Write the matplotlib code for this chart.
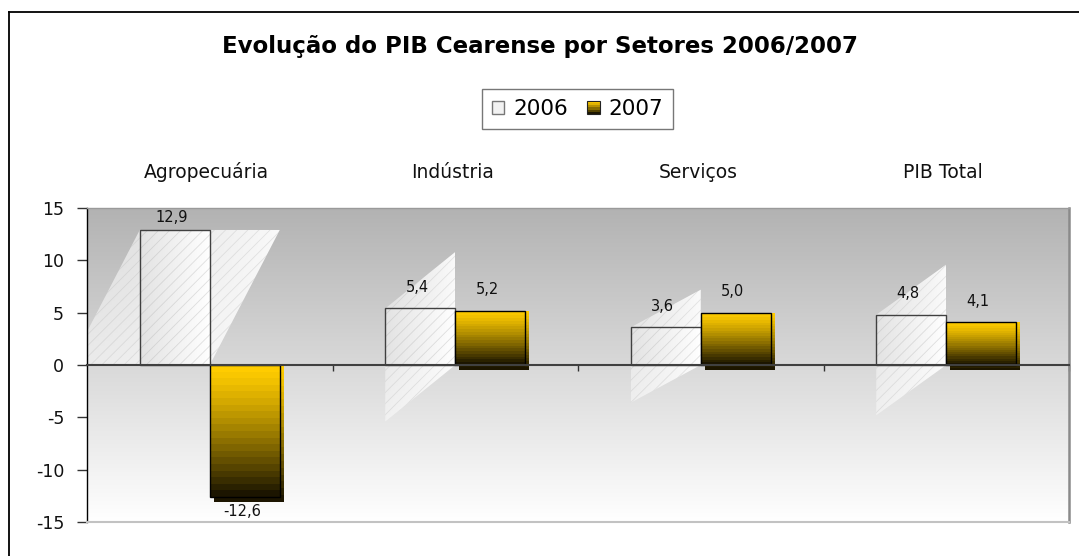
import numpy as np
import matplotlib
matplotlib.use('Agg')
import matplotlib.pyplot as plt
from matplotlib.patches import Rectangle, Polygon
from matplotlib.legend_handler import HandlerBase
from matplotlib.lines import Line2D
import matplotlib.transforms as mtransforms

# ---------------- data ----------------
categories = ['Agropecuária', 'Indústria', 'Serviços', 'PIB Total']
series_names = ['2006', '2007']
values_2006 = [12.9, 5.4, 3.6, 4.8]
values_2007 = [-12.6, 5.2, 5.0, 4.1]
yticks = [-15, -10, -5, 0, 5, 10, 15]
title = 'Evolução do PIB Cearense por Setores 2006/2007'

# ---------------- styling ----------------
plt.rcParams['font.family'] = ['DejaVu Sans']
plt.rcParams['hatch.linewidth'] = 0.6

W, H = 1079, 556
fig = plt.figure(figsize=(W / 100, H / 100), dpi=100)
fig.patch.set_facecolor('white')
ax = fig.add_axes([87 / W, (H - 522) / H, 982 / W, 314 / H])
ncat = len(categories)
ax.set_xlim(-0.5, ncat - 0.5)
ax.set_ylim(-15, 15)

px_x = ncat / 982.0      # data units per pixel (x)
px_y = 30.0 / 314.0      # data units per pixel (y)
bw = 70 * px_x           # bar width

GOLD = np.array([1.0, 0.80, 0.0])
DARK = np.array([0.11, 0.085, 0.0])


def vgrad(nb=20):
    t = (np.linspace(0, 1, nb) ** 1.25)[:, None, None]
    return GOLD[None, None, :] + (DARK - GOLD)[None, None, :] * t


# background gradient
g = np.linspace(0, 1, 256)[:, None, None]
top_c = np.array([0.70, 0.70, 0.70])
bot_c = np.array([1.0, 1.0, 1.0])
bg = top_c[None, None, :] + (bot_c - top_c)[None, None, :] * g
ax.imshow(bg, extent=(0, 1, 0, 1), transform=ax.transAxes, aspect='auto',
          zorder=0, origin='upper', interpolation='bilinear')

# 2006: translucent sheared shapes + bars
for i, v in enumerate(values_2006):
    x0, x1 = i - bw, i
    if 2 * v > 15:
        verts = [(x0 - bw, 0), (x0, v), (x0 + 2 * bw, v), (x0 + bw, 0)]
    else:
        verts = [(x0, v), (x1, 2 * v), (x1, 0), (x0, -v)]
    poly = Polygon(verts, closed=True, facecolor='none', edgecolor='none', zorder=1)
    ax.add_patch(poly)
    xs = [p[0] for p in verts]
    ys = [p[1] for p in verts]
    a = np.zeros((2, 64, 4))
    a[..., :3] = 1.0
    a[..., 3] = np.linspace(0.45, 0.92, 64)[None, :]
    im = ax.imshow(a, extent=(min(xs), max(xs), min(ys), max(ys)), aspect='auto',
                   zorder=1, interpolation='bilinear')
    im.set_clip_path(poly)
    ax.add_patch(Polygon(verts, closed=True, facecolor='none',
                         edgecolor=(0.72, 0.72, 0.72, 0.35), lw=0, hatch='///', zorder=1.1))

    rect = Rectangle((x0, 0), bw, v, facecolor='none', edgecolor='none', zorder=2)
    ax.add_patch(rect)
    h = np.zeros((2, 64, 3))
    h[...] = np.linspace(0.89, 1.0, 64)[None, :, None]
    im2 = ax.imshow(h, extent=(x0, x1, 0, v), aspect='auto', zorder=2,
                    interpolation='bilinear')
    im2.set_clip_path(rect)
    ax.add_patch(Rectangle((x0, 0), bw, v, facecolor='none',
                           edgecolor=(0.7, 0.7, 0.7, 0.4), lw=0, hatch='///', zorder=2.1))
    ax.add_patch(Rectangle((x0, 0), bw, v, facecolor='none', edgecolor='#404040',
                           lw=1.0, zorder=2.2))

# 2007: gradient bars with shadow
dx, dy = 4 * px_x, 5 * px_y
for i, v in enumerate(values_2007):
    x0, x1 = i, i + bw
    top, bot = max(v, 0), min(v, 0)
    # shadow
    srect = Rectangle((x0 + dx, bot - dy), bw, top - bot + dy, facecolor='none',
                      edgecolor='none', zorder=2.4)
    ax.add_patch(srect)
    ims = ax.imshow(vgrad(), extent=(x0 + dx, x1 + dx, bot - dy, top), aspect='auto',
                    zorder=2.4, interpolation='nearest', origin='upper')
    ims.set_clip_path(srect)
    # bar
    rect = Rectangle((x0, bot), bw, top - bot, facecolor='none', edgecolor='none', zorder=2.5)
    ax.add_patch(rect)
    imb = ax.imshow(vgrad(), extent=(x0, x1, bot, top), aspect='auto', zorder=2.5,
                    interpolation='nearest', origin='upper')
    imb.set_clip_path(rect)
    ax.add_patch(Rectangle((x0, bot), bw, top - bot, facecolor='none', edgecolor='black',
                           lw=1.0, zorder=2.6))

ax.set_xlim(-0.5, ncat - 0.5)
ax.set_ylim(-15, 15)
ax.set_aspect('auto')


# data labels
def fmt(v):
    return f'{v:.1f}'.replace('.', ',')


fig.canvas.draw()
ax_top_disp = ax.bbox.y1


def put_label(x, v):
    if v >= 0:
        ydisp = ax.transData.transform((x, v))[1]
        if ydisp + 21 > ax_top_disp - 9:
            ax.annotate(fmt(v), xy=(x, 15), xytext=(-3, -9), textcoords='offset pixels',
                        ha='center', va='center', fontsize=10.5, color='#111', zorder=6)
        else:
            ax.annotate(fmt(v), xy=(x, v), xytext=(-3, 21), textcoords='offset pixels',
                        ha='center', va='center', fontsize=10.5, color='#111', zorder=6)
    else:
        ax.annotate(fmt(v), xy=(x, v), xytext=(-3, -15), textcoords='offset pixels',
                    ha='center', va='center', fontsize=10.5, color='#111', zorder=6)


for i, v in enumerate(values_2006):
    put_label(i - bw / 2, v)
for i, v in enumerate(values_2007):
    put_label(i + bw / 2, v)

# category labels on top
trans = mtransforms.blended_transform_factory(ax.transData, ax.transAxes)
for i, c in enumerate(categories):
    ax.text(i - 0.012, 1 + 36 / 314, c, transform=trans, ha='center', va='center',
            fontsize=13.5, color='#111')

# axes styling
ax.set_yticks(yticks)
ax.set_yticklabels([str(t) for t in yticks])
ax.tick_params(axis='y', direction='out', length=7, width=1, color='#333',
               pad=9.5, labelsize=12.5, labelcolor='#111')
ax.set_xticks([k + 0.5 for k in range(ncat)])
ax.set_xticklabels([])
ax.tick_params(axis='x', direction='out', length=4, width=1, color='#333')
ax.spines['bottom'].set_position(('data', 0))
ax.spines['bottom'].set_color('#404040')
ax.spines['bottom'].set_linewidth(1.5)
ax.spines['bottom'].set_zorder(3)
ax.spines['left'].set_color('black')
ax.spines['left'].set_linewidth(1.0)
ax.spines['top'].set_color('#9a9a9a')
ax.spines['top'].set_linewidth(1.0)
ax.spines['right'].set_color('#8a8a8a')
ax.spines['right'].set_linewidth(1.8)
ax.plot([0, 1], [0, 0], transform=ax.transAxes, color='#c2c2c2', lw=1.5,
        clip_on=False, zorder=3)


# legend
class GradKey:
    pass


class GradHandler(HandlerBase):
    def create_artists(self, legend, orig_handle, xdescent, ydescent, width, height,
                       fontsize, trans):
        cols = vgrad(6)[:, 0, :]
        n = len(cols)
        arts = []
        for k, c in enumerate(cols):
            arts.append(Rectangle((-xdescent, -ydescent + height * (n - 1 - k) / n), width,
                                  height / n, facecolor=c, edgecolor='none', transform=trans))
        arts.append(Rectangle((-xdescent, -ydescent), width, height, facecolor='none',
                              edgecolor='#222', lw=0.8, transform=trans))
        return arts


h2006 = Rectangle((0, 0), 1, 1, facecolor='#f2f2f2', edgecolor='#777', lw=1.0)
leg = fig.legend([h2006, GradKey()], series_names, handler_map={GradKey: GradHandler()},
                 loc='center', bbox_to_anchor=(577.5 / W, 1 - 109 / H), ncol=2,
                 fontsize=15.5, frameon=True, fancybox=False, edgecolor='#555',
                 handlelength=0.6, handleheight=0.6, handletextpad=0.4,
                 columnspacing=0.9, borderpad=0.45, borderaxespad=0)
leg.get_frame().set_linewidth(1.0)

# title
fig.text(539.5 / W, 1 - 46 / H, title, ha='center', va='center', fontsize=16.5,
         fontweight='bold', color='black')

# outer border (top and left visible)
fig.add_artist(Line2D([8.5 / W, 1.0], [1 - 12 / H, 1 - 12 / H], color='black', lw=1.3))
fig.add_artist(Line2D([8.5 / W, 8.5 / W], [0, 1 - 12 / H], color='black', lw=1.3))

fig.savefig('out.png', dpi=100, facecolor='white')
